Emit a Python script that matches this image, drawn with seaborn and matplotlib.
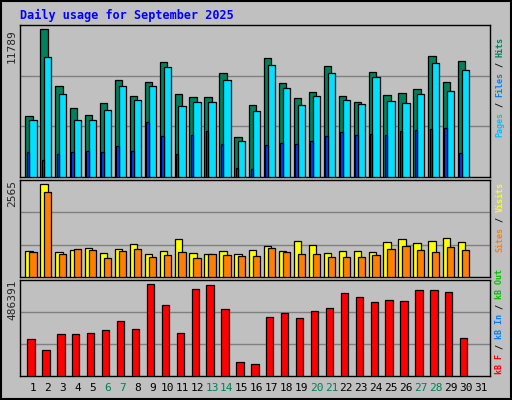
import numpy as np
import pandas as pd
import matplotlib
matplotlib.use("Agg")
import matplotlib.pyplot as plt
import seaborn as sns

days = list(range(1, 31))
hits = [4907, 11789, 7228, 5468, 4988, 5868, 7708, 6428, 7548, 9148, 6588, 6348, 6348, 8268, 3227,
        5708, 9468, 7468, 6268, 6748, 8828, 6428, 5948, 8348, 6508, 6668, 6988, 9628, 7548, 9228]
files = [4587, 9548, 6588, 4587, 4587, 5388, 7228, 6108, 7228, 8748, 5628, 5948, 5948, 7708, 2907,
         5308, 8908, 7068, 5708, 6428, 8268, 6108, 5788, 7948, 6028, 5868, 6588, 9068, 6828, 8508]
pages = [2027, 1387, 1867, 2027, 2107, 2027, 2507, 2107, 4427, 3307, 1867, 3387, 3707, 2667, 747,
         667, 2587, 2747, 2667, 2907, 3307, 3627, 3387, 3467, 3387, 3707, 3787, 3867, 3947, 1947]
visits = [732, 2565, 704, 759, 815, 676, 787, 926, 648, 732, 1065, 676, 648, 732, 648,
          759, 870, 732, 1009, 898, 676, 732, 732, 704, 982, 1065, 954, 1009, 1093, 982]
sites = [704, 2343, 648, 787, 759, 537, 732, 787, 565, 620, 704, 537, 648, 620, 593,
         593, 815, 704, 648, 648, 565, 565, 565, 620, 787, 870, 759, 704, 843, 759]
kbytes = [193475, 134900, 220100, 220100, 225425, 241400, 289325, 246725, 486391, 374525, 225425,
          459725, 481025, 353225, 76325, 65675, 310625, 331925, 305300, 342575, 358550, 438425,
          417125, 390500, 401150, 395825, 454400, 454400, 443750, 198800]
tick_days = list(range(1, 32))
weekend = [6, 7, 13, 14, 20, 21, 27, 28]
title = "Daily usage for September 2025"

sns.set_style("white")
plt.rcParams['font.family'] = ['DejaVu Sans Mono', 'DejaVu Sans']

BG = "#c0c0c0"
fig = plt.figure(figsize=(5.12, 4.0), dpi=100, facecolor=BG)
d = np.array(days, dtype=float)

def mk(bottom_px, top_px):
    ax = fig.add_axes([20/512, 1-bottom_px/400, 470/512, (bottom_px-top_px)/400])
    ax.set_facecolor(BG)
    for s in ax.spines.values():
        s.set_color("black"); s.set_linewidth(1)
    return ax

def bars(ax, x, y, color, w):
    df = pd.DataFrame({"x": x, "y": y})
    sns.barplot(data=df, x="x", y="y", native_scale=True, width=w, color=color,
                edgecolor="black", linewidth=0.9, saturation=1, ax=ax, zorder=3)
    ax.set_xlabel(""); ax.set_ylabel("")

def grid(ax, top):
    for f in (1/3, 2/3):
        ax.axhline(top*f, color="#808080", lw=1, zorder=1)

ax1 = mk(177, 25)
top1 = 12133
ax1.set_ylim(0, top1); grid(ax1, top1)
bars(ax1, d - 0.265, hits, "#00805c", 0.49)
bars(ax1, d - 0.005, files, "#00e0ff", 0.49)
bars(ax1, d - 0.335, pages, "#0040ff", 0.17)
ax1.set_xlim(0.13, 31.63); ax1.set_xticks([]); ax1.set_yticks([])

ax2 = mk(277, 180)
top2 = 2687
ax2.set_ylim(0, top2); grid(ax2, top2)
bars(ax2, d - 0.265, visits, "#ffff00", 0.49)
bars(ax2, d - 0.005, sites, "#ff8000", 0.49)
ax2.set_xlim(0.13, 31.63); ax2.set_xticks([]); ax2.set_yticks([])

ax3 = mk(376, 280)
top3 = 507700
ax3.set_ylim(0, top3); grid(ax3, top3)
bars(ax3, d - 0.13, kbytes, "#ff0000", 0.49)
ax3.set_xlim(0.13, 31.63)
ax3.set_xticks(tick_days)
ax3.set_xticklabels([str(t) for t in tick_days], fontsize=8)
ax3.tick_params(axis="x", length=0, pad=5)
for lab, t in zip(ax3.get_xticklabels(), tick_days):
    lab.set_color("#00805c" if t in weekend else "black")
ax3.set_yticks([])

fig.text(20/512, 1-15/400, title, color="#0000ff", fontsize=8.5, fontweight="bold",
         va="center", ha="left")
for txt, ytop in (("11789", 29), ("2565", 180), ("486391", 280)):
    fig.text(12/512, 1-ytop/400, txt, rotation=90, fontsize=8, va="top", ha="center")

FS = 6.0
STEP = 0.6021 * FS * 100 / 72

def side(pieces, y_bottom):
    y = y_bottom
    for t, c in pieces:
        fig.text(500/512, 1-y/400, t, rotation=90, color=c, fontsize=FS,
                 fontweight="bold", va="bottom", ha="center")
        y -= STEP*len(t)

side([("Pages", "#00c0ff"), (" / ", "black"), ("Files", "#0080ff"), (" / ", "black"),
      ("Hits", "#00805c")], 137)
side([("Sites", "#ff8000"), (" / ", "black"), ("Visits", "#ffff00")], 252)
side([("kB F", "#ff0000"), (" / ", "black"), ("kB In", "#0080ff"), (" / ", "black"),
      ("kB Out", "#00c000")], 374)

fig.add_artist(plt.Rectangle((0.002, 0.002), 0.996, 0.996, transform=fig.transFigure,
                             fill=False, edgecolor="black", lw=1.5))
fig.savefig("out.png", dpi=100, facecolor=BG)
